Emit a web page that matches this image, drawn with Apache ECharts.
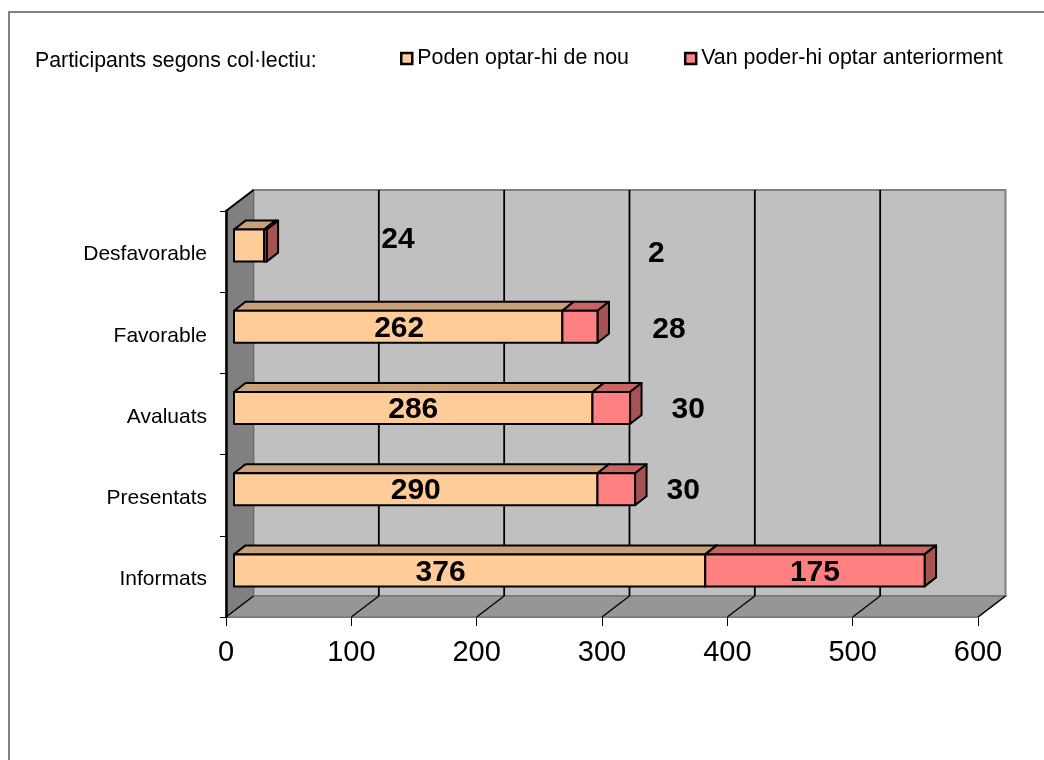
<!DOCTYPE html>
<html>
<head>
<meta charset="utf-8">
<style>html,body{margin:0;padding:0;background:#fff}#c{width:1044px;height:760px}</style>
<script src="https://cdn.jsdelivr.net/npm/echarts@6/dist/echarts.min.js"></script>
</head>
<body>
<div id="c"></div>
<script>
var categories = ['Informats', 'Presentats', 'Avaluats', 'Favorable', 'Desfavorable'];
var seriesNames = ['Poden optar-hi de nou', 'Van poder-hi optar anteriorment'];
var nouValues = [376, 290, 286, 262, 24];
var anteriorValues = [175, 30, 30, 28, 2];
var gridTicks = [0, 100, 200, 300, 400, 500, 600];

// manual label displacements (px from segment centre), as in the reference
var nouLabelShift = [[-29, 2], [0, 2], [0, 2], [1, 2], [149, -6]];
var anteriorLabelShift = [[0, 2], [67, 2], [77, 2], [89, 3], [391, 8]];

var WALL_DX = 27.5, WALL_DY = -21, HALF_BAND = 40.6;
var BAR_DX = 8, BAR_DY = -6, BAR_SX = 11.5, BAR_SY = -9, BAR_H = 32;

function wallItem(params, api) {
  var x0 = api.coord([0, 0])[0];
  var yTop = api.coord([0, categories.length - 1])[1] - HALF_BAND;
  var yBot = api.coord([0, 0])[1] + HALF_BAND;
  var x6 = api.coord([600, 0])[0];
  var dx = WALL_DX, dy = WALL_DY;
  var ch = [];
  ch.push({type: 'polygon', shape: {points: [[x0 + dx, yTop + dy], [x6 + dx, yTop + dy], [x6 + dx, yBot + dy], [x0 + dx, yBot + dy]]},
    style: {fill: '#c0c0c0', stroke: '#808080', lineWidth: 2}});
  ch.push({type: 'polygon', shape: {points: [[x0, yTop], [x0 + dx, yTop + dy], [x0 + dx, yBot + dy], [x0, yBot]]},
    style: {fill: '#808080', stroke: '#6a6a6a', lineWidth: 1}});
  ch.push({type: 'polygon', shape: {points: [[x0, yBot], [x0 + dx, yBot + dy], [x6 + dx, yBot + dy], [x6, yBot]]},
    style: {fill: '#969696', stroke: '#7a7a7a', lineWidth: 1.5}});
  ch.push({type: 'line', shape: {x1: x0, y1: yTop, x2: x0 + dx, y2: yTop + dy}, style: {stroke: '#000', lineWidth: 2}});
  gridTicks.forEach(function (t) {
    var x = api.coord([t, 0])[0];
    if (t > 0 && t < 600) {
      ch.push({type: 'line', shape: {x1: x + dx, y1: yTop + dy, x2: x + dx, y2: yBot + dy}, style: {stroke: '#000', lineWidth: 1.8}});
    }
    ch.push({type: 'line', shape: {x1: x, y1: yBot, x2: x + dx, y2: yBot + dy}, style: {stroke: '#000', lineWidth: 1.4}});
  });
  return {type: 'group', children: ch};
}

function barRenderer(shifts, front, top, side) {
  return function (params, api) {
    var start = api.value(0), end = api.value(1), cat = api.value(2);
    var a = api.coord([start, cat]), b = api.coord([end, cat]);
    var xa = a[0] + BAR_DX, xb = b[0] + BAR_DX;
    var y1 = a[1] + BAR_DY - BAR_H / 2, y2 = y1 + BAR_H;
    var s = shifts[params.dataIndex];
    var st = {stroke: '#000', lineWidth: 2, lineJoin: 'round'};
    function poly(points, fill) {
      return {type: 'polygon', shape: {points: points}, style: Object.assign({fill: fill}, st)};
    }
    return {type: 'group', children: [
      poly([[xa, y1], [xa + BAR_SX, y1 + BAR_SY], [xb + BAR_SX, y1 + BAR_SY], [xb, y1]], top),
      poly([[xb, y1], [xb + BAR_SX, y1 + BAR_SY], [xb + BAR_SX, y2 + BAR_SY], [xb, y2]], side),
      poly([[xa, y1], [xb, y1], [xb, y2], [xa, y2]], front),
      {type: 'text', style: {text: String(end - start), x: (xa + xb) / 2 + s[0], y: a[1] + BAR_DY + s[1],
        align: 'center', verticalAlign: 'middle', fill: '#000',
        font: 'bold 30px "Liberation Sans", Arial, sans-serif'}, z2: 10}
    ]};
  };
}

var nouData = categories.map(function (c, i) { return [0, nouValues[i], i]; });
var anteriorData = categories.map(function (c, i) { return [nouValues[i], nouValues[i] + anteriorValues[i], i]; });

var font = '"Liberation Sans", Arial, sans-serif';
var chart = echarts.init(document.getElementById('c'), null, {renderer: 'canvas'});
chart.setOption({
  backgroundColor: '#fff',
  animation: false,
  textStyle: {fontFamily: font},
  graphic: [
    {type: 'line', silent: true, z: -10, shape: {x1: 8, y1: 12, x2: 1044, y2: 12}, style: {stroke: '#808080', lineWidth: 2}},
    {type: 'line', silent: true, z: -10, shape: {x1: 9, y1: 11, x2: 9, y2: 760}, style: {stroke: '#808080', lineWidth: 2}}
  ],
  title: {text: 'Participants segons col·lectiu:', left: 30, top: 46,
    textStyle: {fontSize: 21.3, fontWeight: 'normal', color: '#000', fontFamily: font}},
  legend: {
    left: 395, top: 43, itemWidth: 11, itemHeight: 11, itemGap: 55, selectedMode: false,
    textStyle: {fontSize: 21.4, color: '#000', fontFamily: font},
    data: [
      {name: seriesNames[0], icon: 'rect', itemStyle: {color: '#FFCC99', borderColor: '#000', borderWidth: 2.5}},
      {name: seriesNames[1], icon: 'rect', itemStyle: {color: '#FF8080', borderColor: '#000', borderWidth: 2.5}}
    ]
  },
  grid: {left: 226, top: 211, width: 752, height: 406},
  xAxis: {
    type: 'value', min: 0, max: 600, interval: 100,
    splitLine: {show: false},
    axisLine: {show: true, lineStyle: {color: '#555', width: 1.5}},
    axisTick: {show: true, length: 9, lineStyle: {color: '#000', width: 1}},
    axisLabel: {fontSize: 29, color: '#000', margin: 21, fontFamily: font}
  },
  yAxis: {
    type: 'category', data: categories, z: 5,
    axisLine: {show: true, lineStyle: {color: '#000', width: 2.5}},
    axisTick: {show: true, length: 6, alignWithLabel: false, lineStyle: {color: '#000', width: 1}},
    axisLabel: {fontSize: 21, color: '#000', margin: 19, verticalAlign: 'top', lineHeight: 6, fontFamily: font}
  },
  series: [
    {type: 'custom', name: 'walls', silent: true, z: 1, data: [[0]], renderItem: wallItem, clip: false, encode: {x: 0}},
    {type: 'custom', name: seriesNames[0], z: 3, data: nouData, encode: {x: [0, 1], y: 2}, clip: false,
      renderItem: barRenderer(nouLabelShift, '#FFCC99', '#C9A077', '#C9A077'), itemStyle: {color: '#FFCC99'}},
    {type: 'custom', name: seriesNames[1], z: 4, data: anteriorData, encode: {x: [0, 1], y: 2}, clip: false,
      renderItem: barRenderer(anteriorLabelShift, '#FF8080', '#C86464', '#A65353'), itemStyle: {color: '#FF8080'}}
  ]
});
</script>
</body>
</html>
